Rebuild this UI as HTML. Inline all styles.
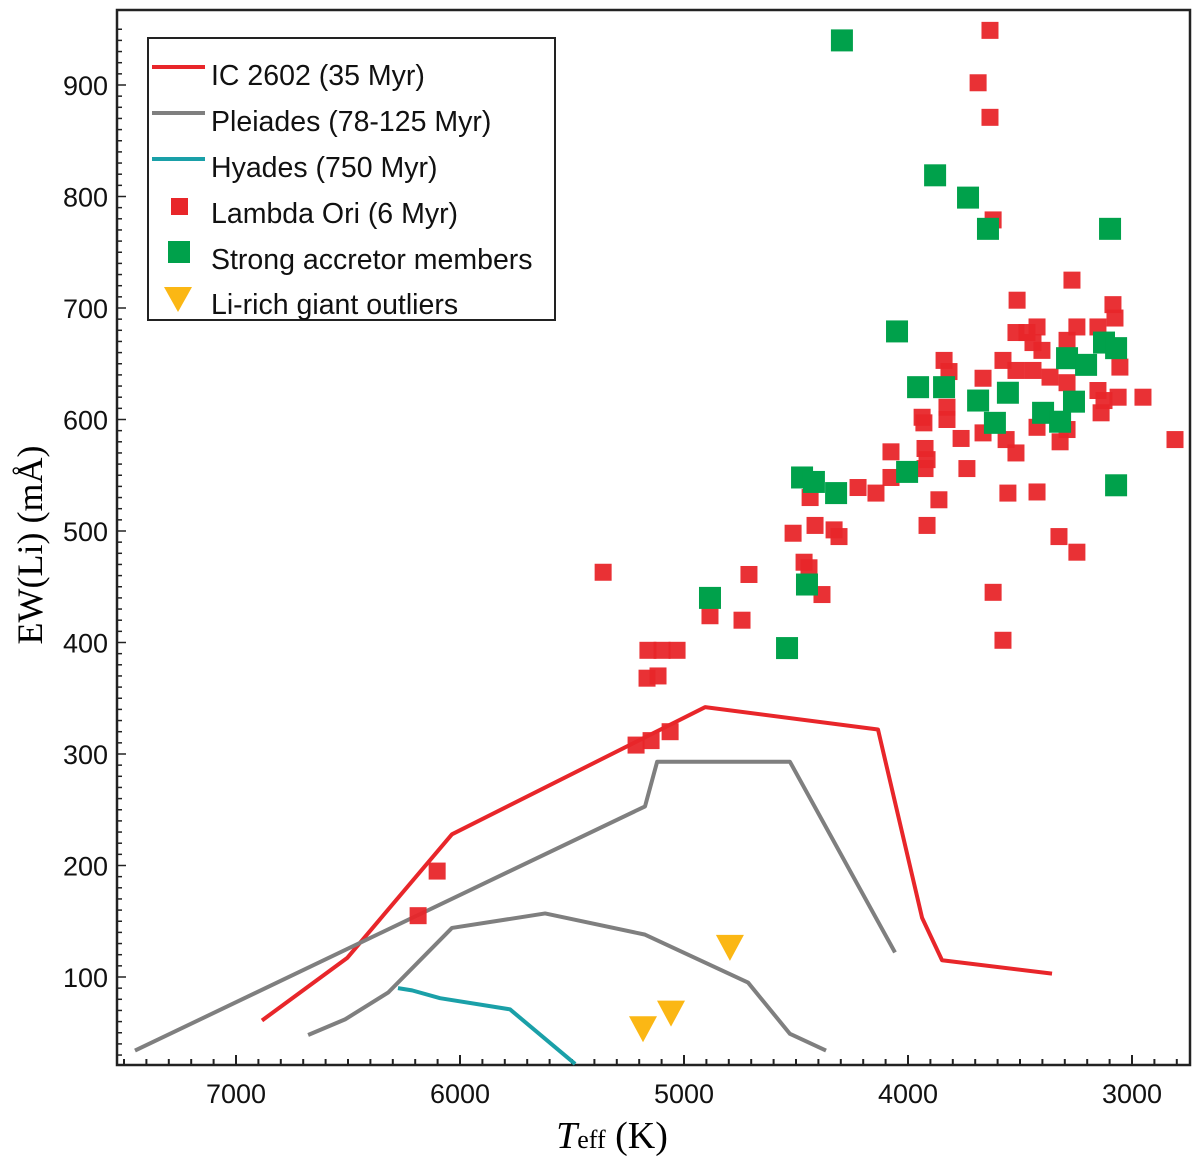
<!DOCTYPE html>
<html><head><meta charset="utf-8"><style>
body{margin:0;background:#fff;}
svg{display:block;font-family:"Liberation Sans",sans-serif;}
</style></head><body>
<svg id="chart" width="1200" height="1164" viewBox="0 0 1200 1164">
<rect x="117" y="10" width="1073" height="1055" fill="#fff" stroke="#222" stroke-width="2.5"/>
<g id="ticks"></g>
<g id="lines"></g>
<g id="marks"></g>
<text x="42" y="545" transform="rotate(-90 42 545)" text-anchor="middle" font-family="Liberation Serif,serif" font-size="36">EW(Li) (mÅ)</text>
<text x="612" y="1148" text-anchor="middle" font-family="Liberation Serif,serif" font-size="38"><tspan font-style="italic">T</tspan><tspan font-size="26">eff</tspan> (K)</text>
<g>
<rect x="148" y="38" width="407" height="282" fill="#fff" stroke="#222" stroke-width="2"/>
<line x1="152" y1="67" x2="205" y2="67" stroke="#e8262a" stroke-width="4"/>
<line x1="152" y1="113" x2="205" y2="113" stroke="#7f7f7f" stroke-width="4"/>
<line x1="152" y1="159" x2="205" y2="159" stroke="#1aa0a8" stroke-width="4"/>
<rect x="171" y="198" width="17" height="17" fill="#e8262a"/>
<rect x="168" y="241" width="22" height="22" fill="#00a14b"/>
<polygon points="164,287 192,287 178,312" fill="#fbb714"/>
<g font-size="28.5" fill="#111">
<text x="211" y="85">IC 2602 (35 Myr)</text>
<text x="211" y="131">Pleiades (78-125 Myr)</text>
<text x="211" y="177">Hyades (750 Myr)</text>
<text x="211" y="223">Lambda Ori (6 Myr)</text>
<text x="211" y="269">Strong accretor members</text>
<text x="211" y="314">Li-rich giant outliers</text>
</g></g>
</svg>
<script>
const xTicks=[7000,6000,5000,4000,3000];
const yTicks=[100,200,300,400,500,600,700,800,900];
const ic2602T=[6884,6504,6036,4906,4134,3937,3848,3357];
const ic2602V=[61,117,228,342,322,153,115,103];
const pleiUpT=[7451,5174,5120,4527,4058];
const pleiUpV=[34,253,293,293,122];
const pleiLoT=[6678,6513,6321,6036,5620,5174,4714,4527,4366];
const pleiLoV=[48,62,86,144,157,138,95,49,34];
const hyadesT=[6277,6214,6089,5777,5486];
const hyadesV=[90,88,81,71,22];
const redT=[3634,3687,3634,3620,3268,3513,3085,3076,3424,3469,3518,3442,3402,3246,3152,3290,3839,3817,3665,3576,3518,3442,3366,3290,3054,3152,3125,3062,2951,3138,3937,3929,3826,3826,3763,3665,3562,3518,3424,3321,3290,2808,4076,3924,3915,3924,4076,4223,4143,4437,3862,3737,3554,3424,4513,4415,4330,4308,3915,4464,4442,4384,3326,3246,3620,3576,5361,6187,6102,5214,5147,5062,5165,5116,5161,5098,5031,4884,4741,4710];
const redV=[949,902,871,779,725,707,703,691,683,678,678,669,662,683,683,671,653,643,637,653,644,644,638,633,647,626,617,620,620,606,602,597,611,600,583,588,582,570,593,580,591,582,571,574,564,556,548,539,534,530,528,556,534,535,498,505,501,495,505,472,467,443,495,481,445,402,463,155,195,308,312,320,368,370,393,393,393,424,420,461];
const greenT=[4295,3879,3732,3643,3098,4884,4049,3955,3839,3687,3554,3612,3397,3321,3259,3290,3205,3125,3071,4473,4420,4321,4004,3071,4451,4540];
const greenV=[940,819,799,771,771,440,679,629,629,617,624,597,606,598,616,655,649,669,664,548,544,534,553,541,452,395];
const giantT=[5183,5058,4795];
const giantV=[54,68,127];

const NS='http://www.w3.org/2000/svg';
const X=t=>1132-(t-3000)*0.224;
const Y=v=>308+(700-v)*1.115;
function mk(tag,attrs,parent){const e=document.createElementNS(NS,tag);for(const k in attrs)e.setAttribute(k,attrs[k]);parent.appendChild(e);return e;}
const tg=document.getElementById('ticks');
for(let t=7500;t>=2800;t-=100){const x=X(t);if(x<117||x>1190)continue;const major=t%1000===0;
 const l=mk('line',{x1:x,x2:x,y1:1065,y2:1065-(major?10:6),stroke:'#222','stroke-width':2},tg);
 
 }
xTicks.forEach(t=>{const e=mk('text',{x:X(t),y:1103,'text-anchor':'middle','font-size':27,fill:'#111'},tg);e.textContent=t;
 
 });
for(let v=20;v<=950;v+=10){const y=Y(v);if(y<10||y>1065)continue;const major=v%100===0;
 const l=mk('line',{x1:117,x2:117+(major?9:5),y1:y,y2:y,stroke:'#222','stroke-width':1.5},tg);
 
 }
yTicks.forEach(v=>{const e=mk('text',{x:108,y:Y(v)+10,'text-anchor':'end','font-size':27,fill:'#111'},tg);e.textContent=v;
 
 });
const lg=document.getElementById('lines');
function curve(T,V,col,name){const p=mk('polyline',{points:T.map((t,i)=>X(t)+','+Y(V[i])).join(' '),fill:'none',stroke:col,'stroke-width':4,'stroke-linejoin':'round'},lg);
 
 }
curve(ic2602T,ic2602V,'#e8262a','ic2602-curve');
curve(pleiUpT,pleiUpV,'#7f7f7f','pleiades-upper-curve');
curve(pleiLoT,pleiLoV,'#7f7f7f','pleiades-lower-curve');
curve(hyadesT,hyadesV,'#1aa0a8','hyades-curve');
const mg=document.getElementById('marks');
redT.forEach((t,i)=>{const r=mk('rect',{x:X(t)-8.5,y:Y(redV[i])-8.5,width:17,height:17,fill:'#e8262a','fill-opacity':0.95},mg);
 
 });
greenT.forEach((t,i)=>{const r=mk('rect',{x:X(t)-11,y:Y(greenV[i])-11,width:22,height:22,fill:'#00a14b'},mg);
 
 });
giantT.forEach((t,i)=>{const x=X(t),y=Y(giantV[i]);const p=mk('polygon',{points:`${x-14},${y-12} ${x+14},${y-12} ${x},${y+14}`,fill:'#fbb714'},mg);
 
 });
</script>
</body></html>
